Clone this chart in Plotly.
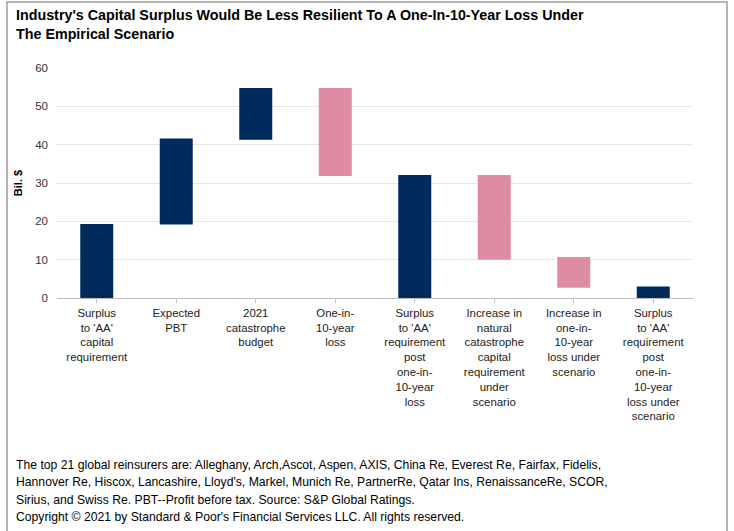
import plotly.graph_objects as go

categories = [
    "Surplus<br>to 'AA'<br>capital<br>requirement",
    "Expected<br>PBT",
    "2021<br>catastrophe<br>budget",
    "One-in-<br>10-year<br>loss",
    "Surplus<br>to 'AA'<br>requirement<br>post<br>one-in-<br>10-year<br>loss",
    "Increase in<br>natural<br>catastrophe<br>capital<br>requirement<br>under<br>scenario",
    "Increase in<br>one-in-<br>10-year<br>loss under<br>scenario",
    "Surplus<br>to 'AA'<br>requirement<br>post<br>one-in-<br>10-year<br>loss under<br>scenario",
]
bar_bottom = [0, 19.2, 41.3, 31.8, 0, 10.0, 2.7, 0]
bar_top = [19.3, 41.6, 54.8, 54.8, 32.1, 32.1, 10.7, 3.0]
is_decrease = [False, False, False, True, False, True, True, False]

y_ticks = [0, 10, 20, 30, 40, 50, 60]

title_text = ("<b>Industry's Capital Surplus Would Be Less Resilient To A One-In-10-Year Loss Under<br>"
              "The Empirical Scenario</b>")
footnote_lines = [
    "The top 21 global reinsurers are: Alleghany, Arch,Ascot, Aspen, AXIS, China Re, Everest Re, Fairfax, Fidelis,",
    "Hannover Re, Hiscox, Lancashire, Lloyd's, Markel, Munich Re, PartnerRe, Qatar Ins, RenaissanceRe, SCOR,",
    "Sirius, and Swiss Re. PBT--Profit before tax. Source: S&P Global Ratings.",
    "Copyright \u00a9 2021 by Standard & Poor's Financial Services LLC. All rights reserved.",
]

NAVY = "#002B5C"
PINK = "#DE8BA4"

W, H = 734, 531
L, R, T, B = 57, 41, 68, 233
PW, PH = W - L - R, H - T - B

def px_to_paper_x(x):
    return (x - L) / PW

def px_to_paper_y(y):
    return (H - B - y) / PH

lengths = [t - b for t, b in zip(bar_top, bar_bottom)]
colors = [PINK if d else NAVY for d in is_decrease]

fig = go.Figure()
fig.add_trace(go.Bar(
    x=list(range(len(categories))),
    y=lengths,
    base=bar_bottom,
    marker=dict(color=colors, line=dict(width=0)),
    hoverinfo="skip",
))

FONT_T = "Liberation Sans Narrow, Arial Narrow, Liberation Sans, Arial, sans-serif"
FONT2 = "Liberation Sans, Arial, sans-serif"

fig.update_layout(
    width=W, height=H,
    margin=dict(l=L, r=R, t=T, b=B),
    paper_bgcolor="white",
    plot_bgcolor="white",
    showlegend=False,
    bargap=0.585,
    xaxis=dict(
        tickmode="array",
        tickvals=list(range(len(categories))),
        ticktext=categories,
        range=[-0.5, len(categories) - 0.5],
        showline=True, linecolor="#BFBFBF", linewidth=1,
        ticks="outside", ticklen=4, tickcolor="#BFBFBF",
        tickson="boundaries",
        showgrid=False,
        tickangle=0,
        tickfont=dict(family=FONT2, size=11.4, color="#222222"),
        zeroline=False,
    ),
    yaxis=dict(
        range=[0, 60],
        tickvals=y_ticks,
        showgrid=True, gridcolor="#E6E6E6", gridwidth=1,
        zeroline=False,
        showline=False,
        ticks="",
        ticklabelstandoff=8,
        tickfont=dict(family=FONT2, size=11.5, color="#333333"),
        title=dict(text="<b>Bil. $</b>", font=dict(family=FONT2, size=11, color="#000000"), standoff=10),
    ),
)

fig.add_annotation(
    text=title_text, xref="paper", yref="paper",
    x=px_to_paper_x(14), y=px_to_paper_y(5),
    xanchor="left", yanchor="top", align="left", showarrow=False,
    font=dict(family=FONT_T, size=14.3, color="#000000"),
)

for i, line in enumerate(footnote_lines):
    fig.add_annotation(
        text=line, xref="paper", yref="paper",
        x=px_to_paper_x(14), y=px_to_paper_y(465 + i * 17.3),
        xanchor="left", yanchor="middle", showarrow=False,
        font=dict(family=FONT2, size=12.2, color="#000000"),
    )

fig.add_shape(
    type="rect", xref="paper", yref="paper",
    x0=px_to_paper_x(7), x1=px_to_paper_x(727),
    y0=px_to_paper_y(540), y1=px_to_paper_y(2),
    line=dict(color="#9A9A9A", width=1.5), fillcolor="rgba(0,0,0,0)",
    layer="below",
)

fig.write_html("out.html", config={"displayModeBar": False},
               post_script="document.body.style.margin='0px';")
